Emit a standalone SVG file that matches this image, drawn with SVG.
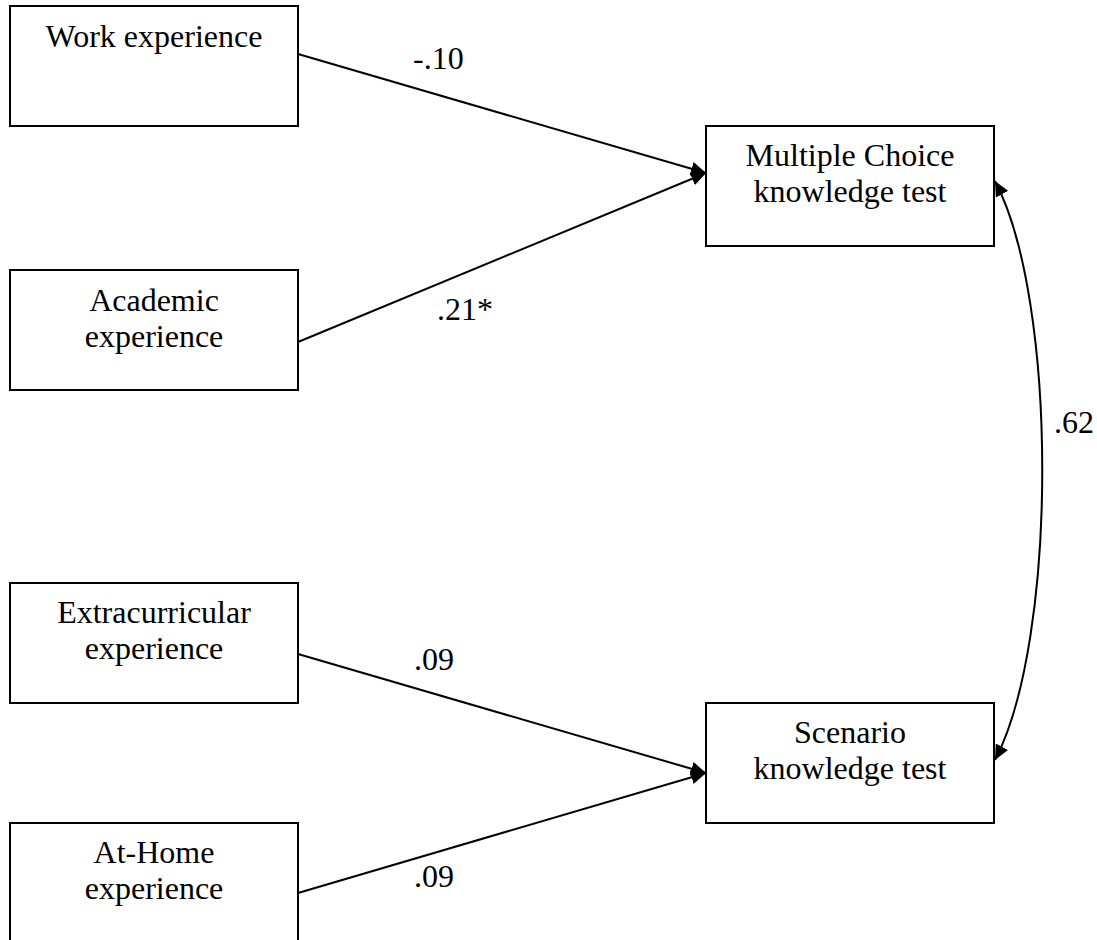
<svg xmlns="http://www.w3.org/2000/svg" width="1097" height="940" viewBox="0 0 1097 940">
  <style>
    .box { fill: #ffffff; stroke: #000000; stroke-width: 2; }
    .lbl { font-family: "Liberation Serif", "Times New Roman", serif; font-size: 32px; fill: #000000; text-anchor: middle; }
    .coef { font-family: "Liberation Serif", "Times New Roman", serif; font-size: 32px; fill: #000000; }
    .edge { fill: none; stroke: #000000; stroke-width: 2; }
  </style>
  <defs>
    <marker id="arrow" markerUnits="userSpaceOnUse" markerWidth="16" markerHeight="14" refX="15" refY="7" orient="auto-start-reverse">
      <path d="M0,0 L15,7 L0,14 z" fill="#000000"/>
    </marker>
  </defs>
  <rect width="1097" height="940" fill="#ffffff"/>

  <!-- predictor boxes -->
  <g id="work">
    <rect class="box" x="10" y="6" width="288" height="120"/>
    <text class="lbl" x="154" y="47">Work experience</text>
  </g>
  <g id="academic">
    <rect class="box" x="10" y="270" width="288" height="120"/>
    <text class="lbl" x="154" y="311">Academic</text>
    <text class="lbl" x="154" y="347">experience</text>
  </g>
  <g id="extracurricular">
    <rect class="box" x="10" y="583" width="288" height="120"/>
    <text class="lbl" x="154" y="623">Extracurricular</text>
    <text class="lbl" x="154" y="659">experience</text>
  </g>
  <g id="athome">
    <rect class="box" x="10" y="823" width="288" height="120"/>
    <text class="lbl" x="154" y="863">At-Home</text>
    <text class="lbl" x="154" y="899">experience</text>
  </g>

  <!-- outcome boxes -->
  <g id="mc">
    <rect class="box" x="706" y="126" width="288" height="120"/>
    <text class="lbl" x="850" y="166">Multiple Choice</text>
    <text class="lbl" x="850" y="202">knowledge test</text>
  </g>
  <g id="scenario">
    <rect class="box" x="706" y="703" width="288" height="120"/>
    <text class="lbl" x="850" y="743">Scenario</text>
    <text class="lbl" x="850" y="779">knowledge test</text>
  </g>

  <!-- paths and correlation -->
  <g id="connectors">
    <line class="edge" x1="298" y1="54" x2="706" y2="173" marker-end="url(#arrow)"/>
    <line class="edge" x1="298" y1="342" x2="706" y2="173" marker-end="url(#arrow)"/>
    <line class="edge" x1="298" y1="654" x2="706" y2="773" marker-end="url(#arrow)"/>
    <line class="edge" x1="298" y1="893" x2="706" y2="773" marker-end="url(#arrow)"/>
    <path class="edge" d="M995,181 C1058,300 1058,640 995,760" marker-start="url(#arrow)" marker-end="url(#arrow)"/>
  </g>

  <!-- coefficients -->
  <g id="coefficients">
    <text class="coef" x="413" y="69">-.10</text>
    <text class="coef" x="437" y="320">.21*</text>
    <text class="coef" x="414" y="670">.09</text>
    <text class="coef" x="414" y="887">.09</text>
    <text class="coef" x="1054" y="433">.62</text>
  </g>
</svg>
